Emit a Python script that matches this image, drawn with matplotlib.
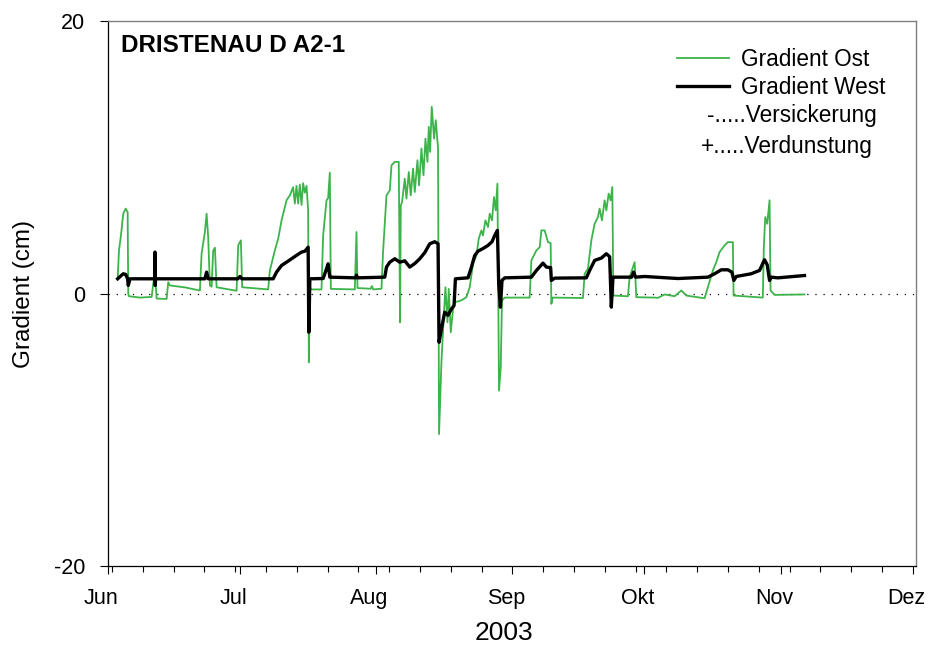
import numpy as np
import pandas as pd
import matplotlib
matplotlib.use("Agg")
import matplotlib.pyplot as plt
import matplotlib.dates as mdates
import matplotlib.transforms as mtrans

matplotlib.rc('font', family=['Liberation Sans', 'DejaVu Sans'], size=15)
matplotlib.rc('axes', unicode_minus=False)

# days after 2003-06-01 and gradient (cm)
ost_days = [2.27, 2.57, 3.02, 3.54, 4.09, 4.54, 4.68, 4.84, 7.34, 10.0, 10.36, 10.75,
            11.13, 13.4, 13.77, 14.15, 17.56, 20.97, 21.35, 22.1, 22.49, 22.85, 23.24,
            23.63, 23.99, 24.38, 24.76, 29.3, 29.67, 30.28, 30.58, 36.48, 36.87, 38.0,
            38.76, 39.53, 40.66, 41.41, 42.16, 42.55, 42.93, 43.3, 43.68, 44.07, 44.43,
            44.82, 45.21, 45.57, 45.73, 45.96, 46.3, 48.61, 48.98, 49.75, 50.11, 50.5,
            50.73, 56.18, 56.56, 56.79, 59.81, 60.04, 60.38, 62.24, 62.6, 63.38, 64.13,
            64.52, 65.27, 66.17, 66.47, 66.63, 66.92, 67.54, 67.92, 68.45, 68.9, 69.42,
            69.81, 70.42, 70.79, 71.33, 71.79, 72.24, 72.7, 72.99, 73.29, 73.67, 74.2,
            74.58, 75.1, 75.33, 75.87, 76.46, 76.78, 77.24, 77.53, 77.99, 78.51, 78.9,
            80.42, 81.55, 82.3, 83.05, 83.83, 84.35, 84.96, 85.32, 85.87, 86.46, 86.85,
            87.37, 87.82, 88.21, 88.6, 88.96, 89.35, 89.64, 90.25, 95.93, 96.32, 97.46,
            98.21, 98.59, 99.34, 100.09, 100.7, 100.86, 101.16, 108.04, 108.43, 109.18,
            109.95, 110.7, 111.45, 111.83, 112.36, 112.97, 113.36, 113.88, 114.33,
            114.72, 114.95, 118.27, 118.65, 119.79, 120.17, 124.33, 125.08, 126.6,
            128.87, 130.4, 131.53, 135.69, 136.44, 137.57, 138.35, 139.1, 140.23,
            140.98, 142.12, 142.28, 148.93, 149.16, 149.48, 149.93, 150.46, 150.69,
            151.6, 158.4]
ost_vals = [1.08, 3.16, 4.26, 5.86, 6.23, 5.98, -0.02, -0.2, -0.3, -0.25, 0.71, 1.47,
            -0.37, -0.4, 0.83, 0.59, 0.45, 0.22, 2.92, 4.51, 5.86, 4.14, 0.59,
            0.5, 3.16, 3.36, 0.46, 0.2, 3.53, 3.9, 0.46, 0.3, 1.69, 3.16,
            4.02, 5.37, 6.84, 7.2, 7.8, 6.6, 7.9, 6.6, 8.0, 6.5, 8.1,
            7.4, 7.9, 6.1, -5.05, 0.46, 0.3, 0.3, 4.26, 6.84, 7.0, 8.87,
            0.34, 0.3, 4.51, 0.4, 0.35, 0.55, 0.3, 0.35, 3.04, 7.2, 7.57,
            9.41, 9.66, 9.66, -2.11, 6.47, 6.71, 8.43, 6.96, 8.92, 7.2, 9.17,
            7.45, 9.78, 7.94, 10.64, 8.68, 11.37, 9.66, 12.23, 10.39, 13.7, 11.37,
            12.72, 10.64, -10.32, -5.05, -1.37, 0.46, -2.11, 0.34, -2.84, -1.13, -0.64,
            -0.5, -0.27, 0.46, 2.18, 2.79, 4.02, 4.63, 4.26, 5.37, 4.88, 5.86,
            5.37, 7.08, 6.1, 8.06, -7.13, -5.42, -0.51, -0.3, -0.3, 2.43, 3.16,
            3.4, 4.63, 4.63, 3.77, 3.7, -0.76, -0.3, -0.33, 1.45, 1.82,
            3.9, 5.12, 5.61, 6.23, 5.37, 6.84, 6.1, 7.33, 6.84,
            7.82, -0.15, -0.2, 1.2, 2.3, -0.27, -0.3, -0.32, -0.07,
            -0.2, 0.22, -0.15, -0.35, 0.46, 1.69, 2.3, 3.04, 3.53,
            3.77, 3.77, -0.15, -0.3, 3.4, 5.61, 5.12, 6.84, 0.22,
            -0.1, -0.07]

west_days = [2.27, 3.54, 4.09, 4.54, 4.68, 5.07, 10.68, 10.75, 10.81, 10.9, 22.1, 22.49,
             22.85, 29.6, 30.06, 30.51, 37.62, 38.39, 39.53, 40.66, 41.8, 42.93, 44.07,
             44.82, 45.57, 45.73, 45.96, 48.98, 49.75, 50.11, 50.5, 56.4, 56.56, 56.79,
             62.99, 63.38, 64.13, 65.27, 66.4, 67.54, 68.67, 69.81, 70.94, 72.08, 73.21,
             74.35, 75.1, 75.33, 75.87, 76.62, 77.37, 78.15, 78.74, 79.05, 81.92, 82.69,
             83.44, 84.19, 85.32, 86.46, 87.37, 87.98, 88.6, 88.89, 89.28, 89.64, 90.25,
             96.32, 97.46, 98.96, 99.73, 100.7, 100.86, 101.61, 108.81, 109.56, 110.7,
             112.22, 113.36, 114.11, 114.49, 114.86, 119.1, 119.56, 120.01, 122.06,
             129.62, 136.44, 137.97, 139.49, 140.98, 141.89, 142.35, 142.89, 146.3,
             148.18, 149.32, 149.93, 150.46, 150.84, 152.35, 158.4]
west_vals = [1.08, 1.45, 1.4, 1.08, 0.59, 1.08, 1.08, 3.04, 0.59, 1.08, 1.08, 1.57,
             1.08, 1.08, 1.25, 1.08, 1.08, 1.57, 2.06, 2.3, 2.55, 2.8, 3.04,
             3.1, 3.4, -2.84, 1.08, 1.1, 1.82, 2.18, 1.2, 1.15, 1.35, 1.15,
             1.2, 1.94, 2.3, 2.55, 2.3, 2.4, 1.94, 2.2, 2.55, 3.0, 3.65,
             3.8, 3.65, -3.58, -2.6, -1.37, -1.6, -1.13, -0.88, 1.08, 1.15, 1.94,
             2.79, 3.11, 3.3, 3.53, 3.8, 4.26, 4.63, 0.71, -1.0, 0.96, 1.15,
             1.2, 1.69, 2.23, 1.94, 1.9, 0.96, 1.13, 1.15, 1.69, 2.43,
             2.6, 2.92, 2.7, -1.0, 1.2, 1.2, 1.57, 1.2, 1.25,
             1.1, 1.2, 1.45, 1.74, 1.74, 1.57, 0.96, 1.25, 1.45,
             1.69, 2.48, 2.1, 0.96, 1.2, 1.15, 1.32]

month_names = ['Jun', 'Jul', 'Aug', 'Sep', 'Okt', 'Nov', 'Dez']

start = pd.Timestamp("2003-06-01")
ost_t = start + pd.to_timedelta(ost_days, unit="D")
west_t = start + pd.to_timedelta(west_days, unit="D")

fig = plt.figure(figsize=(9.29, 6.48), dpi=100)
ax = fig.add_axes([0.1159, 0.1265, 0.8701, 0.8411])

ax.axhline(0, color='k', lw=0.9, ls=(0, (1, 5.5)), zorder=1)
ax.plot(ost_t, ost_vals, color='#3cb44a', lw=1.3, label='Gradient Ost', zorder=2)
ax.plot(west_t, west_vals, color='k', lw=2.4, label='Gradient West', zorder=3)

ax.set_xlim(pd.Timestamp("2003-06-01"), pd.Timestamp("2003-12-01 18:00"))
ax.set_ylim(-20, 20)
ax.set_yticks([-20, 0, 20])

ax.xaxis.set_major_locator(mdates.MonthLocator())
ax.xaxis.set_minor_locator(mdates.WeekdayLocator(byweekday=mdates.MO))
ax.set_xticks(ax.get_xticks())
ax.set_xticklabels(month_names)

ax.tick_params(axis='both', which='major', direction='out', length=6, width=0.8, pad=10, labelsize=15.5)
ax.tick_params(axis='x', which='minor', direction='out', length=4, width=0.8)

# labels in the original sit a little left of their ticks
shift = mtrans.ScaledTranslation(-0.065, 0, fig.dpi_scale_trans)
for lbl in ax.get_xticklabels():
    lbl.set_transform(lbl.get_transform() + shift)

for side in ['top', 'right']:
    ax.spines[side].set_color('#7f7f7f')
    ax.spines[side].set_linewidth(1.0)
for side in ['left', 'bottom']:
    ax.spines[side].set_linewidth(0.9)

ax.set_xlabel('2003', fontsize=19)
ax.xaxis.set_label_coords(0.490, -0.1)
ax.set_ylabel('Gradient (cm)', fontsize=17.5, labelpad=14)

ax.text(0.016, 0.977, 'DRISTENAU D A2-1', transform=ax.transAxes, fontsize=17.5,
        fontweight='bold', ha='left', va='top')

ax.legend(loc='upper left', bbox_to_anchor=(0.7043, 0.95), frameon=False, fontsize=16.3,
          handlelength=2.3, handletextpad=0.55, labelspacing=0.2, borderpad=0, borderaxespad=0)
ax.text(0.7414, 0.8257, '-.....Versickerung', transform=ax.transAxes, fontsize=16.3,
        ha='left', va='center')
ax.text(0.734, 0.7706, '+.....Verdunstung', transform=ax.transAxes, fontsize=16.3,
        ha='left', va='center')

fig.savefig('out.png', dpi=100)
